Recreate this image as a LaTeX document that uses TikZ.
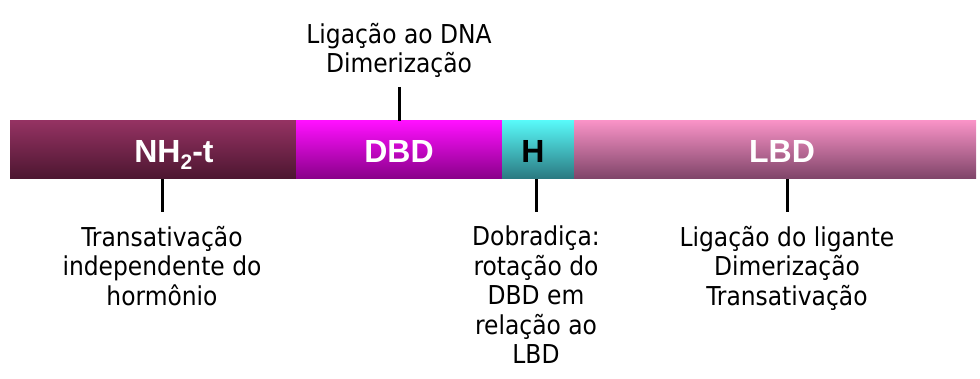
\documentclass[tikz,border=0pt]{standalone}
\usepackage{fontspec}
\setmainfont{DejaVu Sans Condensed}
\newfontfamily\barfont{Liberation Sans}
\usetikzlibrary{positioning}
\definecolor{nhtop}{HTML}{943262}
\definecolor{nhbot}{HTML}{4C1630}
\definecolor{dbdtop}{HTML}{FF10FF}
\definecolor{dbdbot}{HTML}{880088}
\definecolor{htop}{HTML}{58F8F8}
\definecolor{hbot}{HTML}{2A7880}
\definecolor{lbdtop}{HTML}{F892C6}
\definecolor{lbdbot}{HTML}{7E4468}
\newcommand{\lowtwo}{{\fontsize{21}{21}\selectfont\raisebox{-7pt}{2}}}
\begin{document}
\begin{tikzpicture}[x=1pt,y=-1pt,
  seg/.style={inner sep=0pt,minimum height=58pt,anchor=west},
  barlbl/.style={font=\barfont\bfseries\fontsize{32}{32}\selectfont,text=white,inner sep=0pt,anchor=base},
  note/.style={font=\fontsize{26}{29.5}\selectfont,align=center,inner sep=0pt},
  tick/.style={line width=3pt}]
\useasboundingbox (0,0) rectangle (980,379);
% the domains of the receptor
\node[seg, minimum width=286pt, top color=nhtop, bottom color=nhbot] (nh) at (10,150) {};
\node[seg, minimum width=206pt, top color=dbdtop, bottom color=dbdbot] (dbd) at (296,150) {};
\node[seg, minimum width=72pt, top color=htop, bottom color=hbot] (h) at (502,150) {};
\node[seg, minimum width=402pt, top color=lbdtop, bottom color=lbdbot] (lbd) at (574,150) {};
\node[barlbl] (tnh) at (174,163) {NH\lowtwo-t};
\node[barlbl] (tdbd) at (399,163) {DBD};
\node[barlbl, text=black] (th) at (533,163) {H};
\node[barlbl] (tlbd) at (782,163) {LBD};
% what each domain does
\node[note, anchor=south] (ndbd) at (399,78) {Ligação ao DNA\\Dimerização};
\node[note, anchor=north] (nnh) at (162,226) {Transativação\\independente do\\hormônio};
\node[note, anchor=north] (nh2) at (536,226) {Dobradiça:\\rotação do\\DBD em\\relação ao\\LBD};
\node[note, anchor=north] (nlbd) at (787,226) {Ligação do ligante\\Dimerização\\Transativação};
\draw[tick] (ndbd.south) ++(0,9) -- (ndbd.south |- dbd.north);
\draw[tick] (nnh.north) ++(0,-14) -- (nnh.north |- nh.south);
\draw[tick] (nh2.north) ++(0,-14) -- (nh2.north |- h.south);
\draw[tick] (nlbd.north) ++(0,-14) -- (nlbd.north |- lbd.south);
\end{tikzpicture}
\end{document}
